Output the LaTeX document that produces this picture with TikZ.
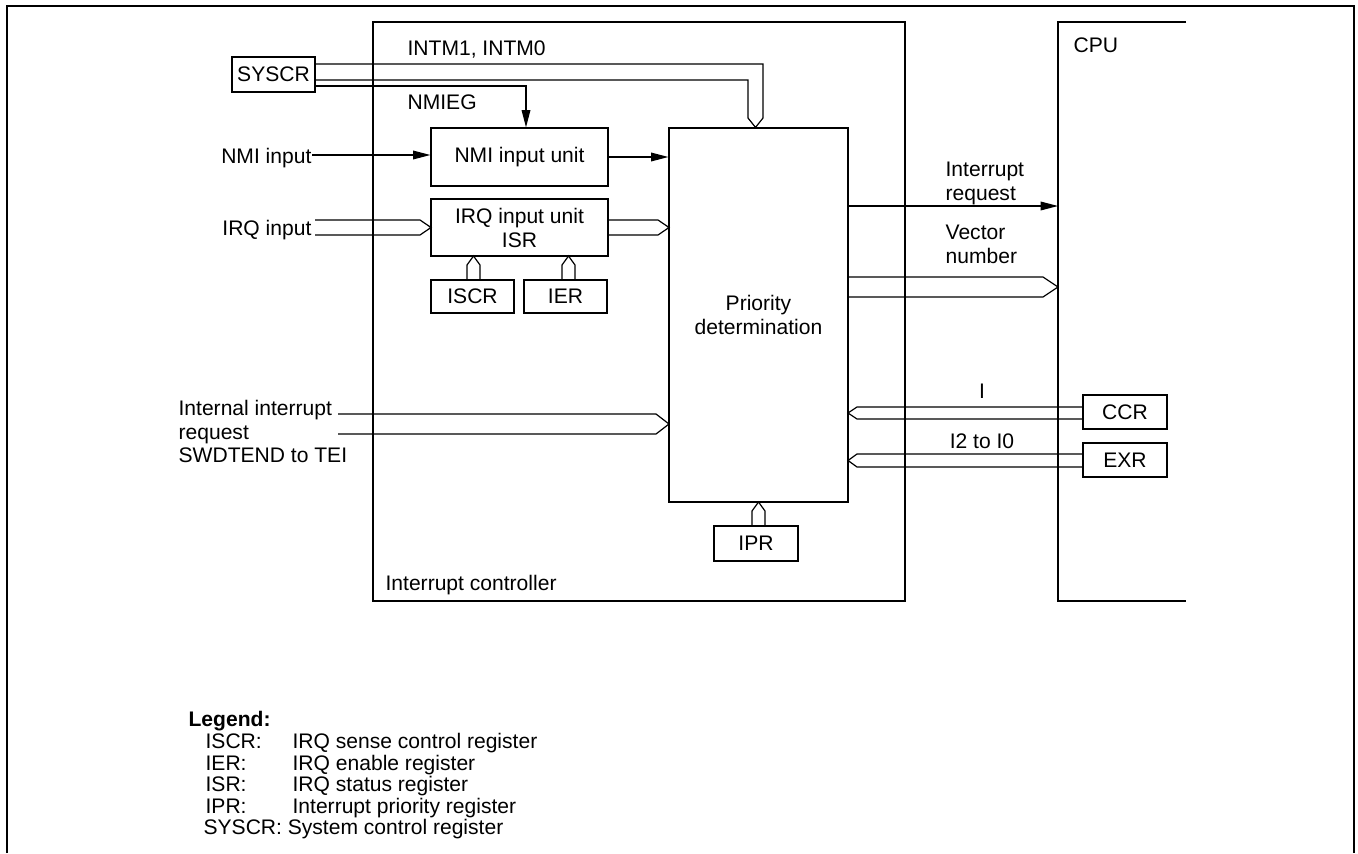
\documentclass[tikz,border=0pt]{standalone}
\usepackage{fontspec}
\setmainfont{Liberation Sans}
\usetikzlibrary{arrows.meta,fit,calc}
\newcommand\hbus[5]{\draw[bus] (#1,{#3-#4}) -- ({#2-#5},{#3-#4}) -- (#2,#3) -- ({#2-#5},{#3+#4}) -- (#1,{#3+#4});}
\newcommand\vbus[5]{\draw[bus] ({#1-#4},#2) -- ({#1-#4},{#3+#5}) -- (#1,#3) -- ({#1+#4},{#3+#5}) -- ({#1+#4},#2);}
\begin{document}
\begin{tikzpicture}[x=0.75pt,y=-0.75pt, line width=0.9pt,
  box/.style={draw, inner sep=0pt},
  txt/.style={inner sep=0pt, font=\fontsize{15.8}{18}\selectfont, align=center},
  bus/.style={draw, line join=miter},
  sig/.style={-{Triangle[length=13pt,width=6.5pt]}}]
\useasboundingbox (0,0) rectangle (1358,853);
% outer frame
\draw[line width=1.5pt] (7,853) -- (7,6) -- (1354,6) -- (1354,853);
% interrupt controller and CPU
\node[box, fit={(373,22) (905,601)}] (ic) {};
\draw (1186,22) -- (1058,22) -- (1058,601) -- (1186,601);
\coordinate (cpul) at (1058,300);
% boxes
\node[box, fit={(232,57) (315,92)}] (syscr) {};
\node[txt] at (syscr.center) {SYSCR};
\node[box, fit={(431,128) (608,186)}] (nmiu) {};
\node[txt] at (nmiu.center) {NMI input unit};
\node[box, fit={(431,199) (608,256)}] (irqu) {};
\node[txt] at (irqu.center) {IRQ input unit\\ISR};
\node[box, fit={(431,280) (514,313)}] (iscr) {};
\node[txt] at (iscr.center) {ISCR};
\node[box, fit={(524,280) (607,313)}] (ier) {};
\node[txt] at (ier.center) {IER};
\node[box, fit={(669,128) (848,502)}] (prio) {};
\node[txt] at (prio.center) {Priority\\determination};
\node[box, fit={(714,526) (798,561)}] (ipr) {};
\node[txt] at (ipr.center) {IPR};
\node[box, fit={(1083,395) (1167,429)}] (ccr) {};
\node[txt] at (ccr.center) {CCR};
\node[box, fit={(1083,443) (1167,477)}] (exr) {};
\node[txt] at (exr.center) {EXR};
% labels
\node[txt, anchor=base west] (intm) at (407,55) {INTM1, INTM0};
\node[txt, anchor=base west] (nmieg) at (407,109) {NMIEG};
\node[txt, anchor=base east] (nmiin) at (312,163) {NMI input};
\node[txt, anchor=base east] (irqin) at (312,235) {IRQ input};
\node[txt, anchor=base west] (ii1) at (178,415) {Internal interrupt};
\node[txt, anchor=base west] (ii2) at (178,439) {request};
\node[txt, anchor=base west] (ii3) at (178,462) {SWDTEND to TEI};
\node[txt, anchor=base west] (ir1) at (945,176) {Interrupt};
\node[txt, anchor=base west] (ir2) at (945,200) {request};
\node[txt, anchor=base west] (vn1) at (945,239) {Vector};
\node[txt, anchor=base west] (vn2) at (945,263) {number};
\node[txt, anchor=base] (lI) at (982,398) {I};
\node[txt, anchor=base] (lI2) at (982,448) {I2 to I0};
\node[txt, anchor=base west] (cpu) at (1073,52) {CPU};
\node[txt, anchor=base west] (icl) at (385,590) {Interrupt controller};
% legend
\node[txt, anchor=base west, font=\fontsize{15.8}{18}\selectfont\bfseries] (leg) at (188,726) {Legend:};
\node[txt, anchor=base west] (l1a) at (205,748) {ISCR:};
\node[txt, anchor=base west] (l1b) at (292,748) {IRQ sense control register};
\node[txt, anchor=base west] (l2a) at (205,770) {IER:};
\node[txt, anchor=base west] (l2b) at (292,770) {IRQ enable register};
\node[txt, anchor=base west] (l3a) at (205,791) {ISR:};
\node[txt, anchor=base west] (l3b) at (292,791) {IRQ status register};
\node[txt, anchor=base west] (l4a) at (205,813) {IPR:};
\node[txt, anchor=base west] (l4b) at (292,813) {Interrupt priority register};
\node[txt, anchor=base west] (l5) at (203,834) {SYSCR: System control register};
% connectors
\draw[bus] (syscr.east |- 0,64) -- (763,64) -- (763,118) -- (prio.north -| 755.5,0) -- (748,118) -- (748,80) -- (syscr.east |- 0,80);
\draw[sig] (syscr.east |- 0,86) -- (526,86) -- (nmiu.north -| 526,0);
\draw[sig] (nmiin.east |- 0,155) -- (nmiu.west |- 0,155);
\draw[sig] (nmiu.east |- 0,157) -- (prio.west |- 0,157);
\draw[sig] (prio.east |- 0,206) -- (cpul |- 0,206);
\hbus{315}{431}{227.5}{7.5}{11}
\hbus{608}{669}{227.5}{7.5}{11}
\vbus{473.5}{280}{256}{6.5}{9}
\vbus{568.5}{280}{256}{6.5}{9}
\vbus{758.5}{526}{502}{6.5}{9}
\hbus{338}{669}{424}{10}{13}
\hbus{848}{1058}{287}{10}{15}
\hbus{1083}{848}{413}{6}{-9}
\hbus{1083}{848}{460.5}{6.5}{-9}
\end{tikzpicture}
\end{document}
